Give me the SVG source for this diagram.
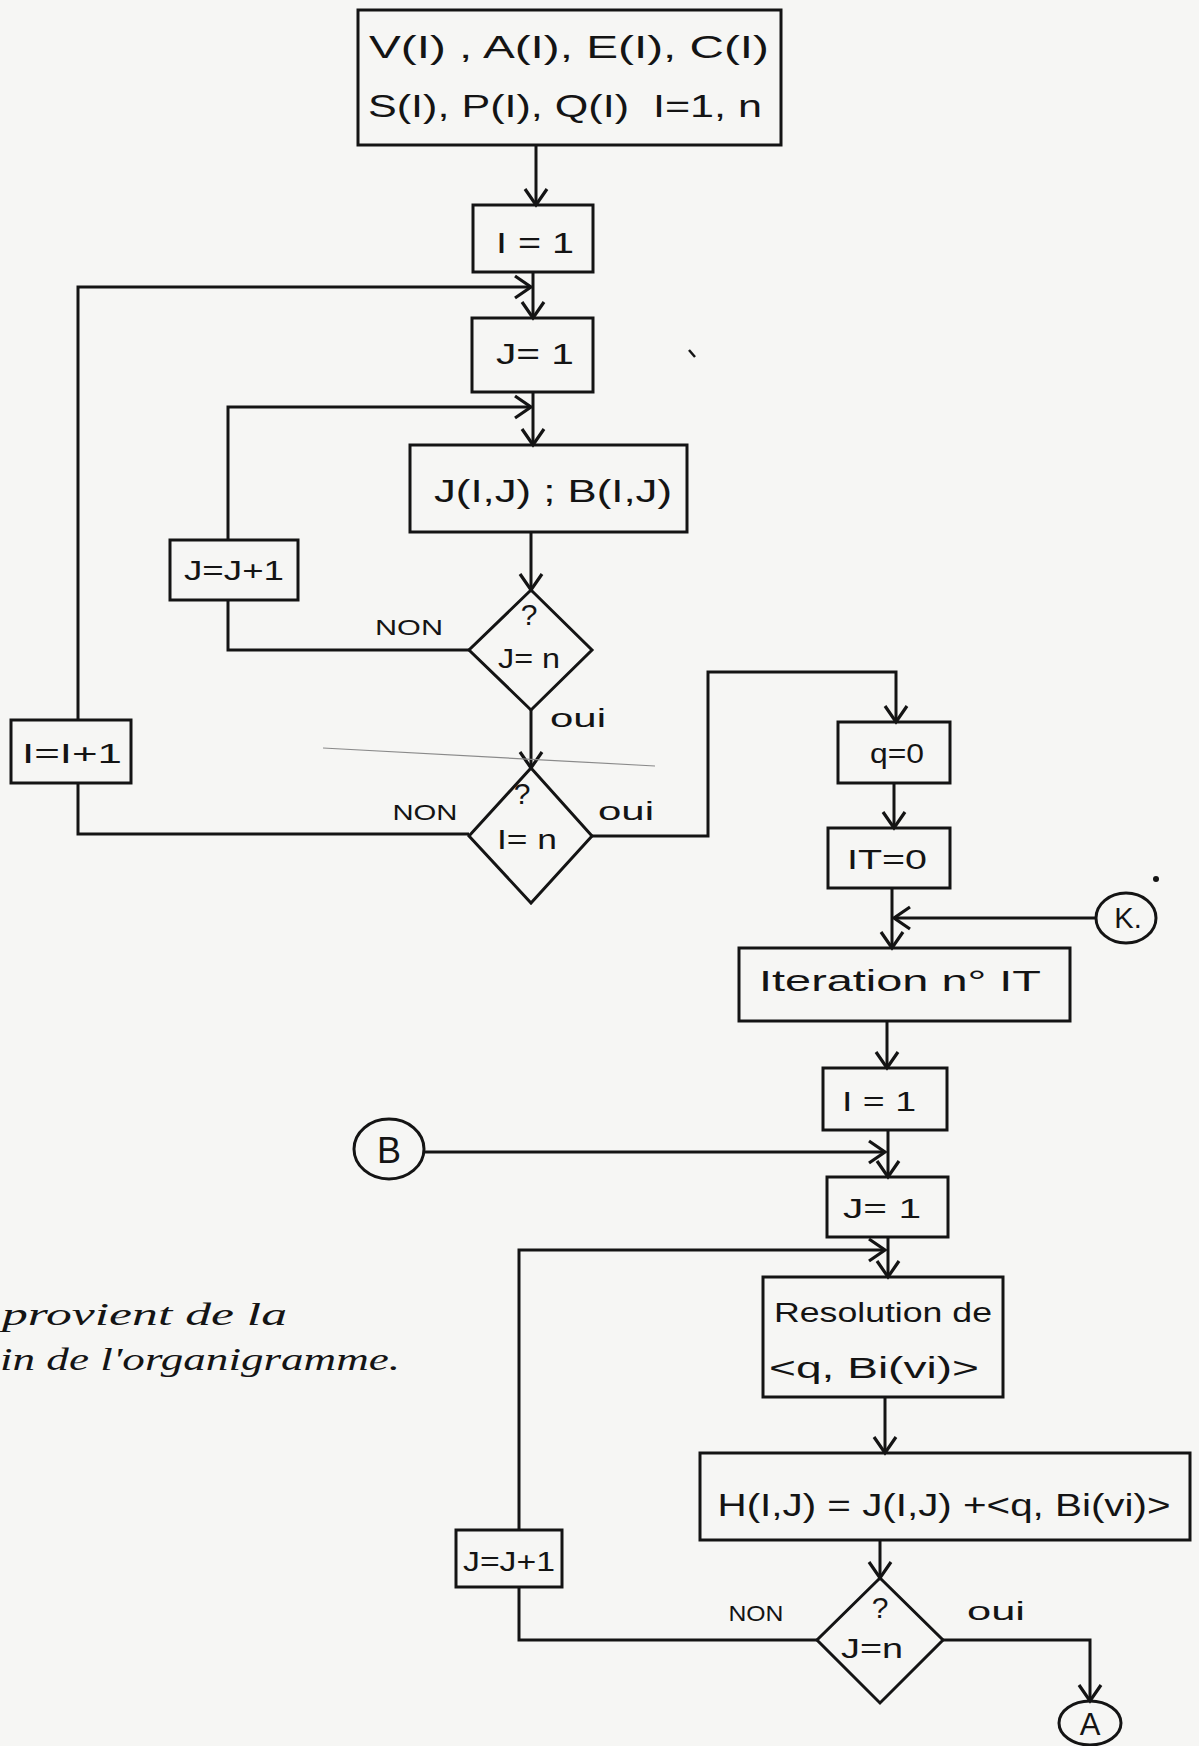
<svg xmlns="http://www.w3.org/2000/svg" width="1199" height="1746" viewBox="0 0 1199 1746">
<defs>
<style>
.bx{fill:none;stroke:#141414;stroke-width:3}
.ln{fill:none;stroke:#141414;stroke-width:3}
.t{font-family:"Liberation Sans","DejaVu Sans",sans-serif;fill:#141414;text-anchor:middle;dominant-baseline:central;white-space:pre}
.lb{font-family:"Liberation Sans","DejaVu Sans",sans-serif;fill:#141414;text-anchor:middle;dominant-baseline:central;font-size:22px}
.nt{font-family:"Liberation Serif","DejaVu Serif",serif;font-style:italic;fill:#141414;font-size:31px}
</style>
<marker id="ah" markerUnits="userSpaceOnUse" markerWidth="28" markerHeight="28" refX="18" refY="13" orient="auto">
<path d="M2,2 L18,13 L2,24" fill="none" stroke="#141414" stroke-width="3.2"/>
</marker>
</defs>
<rect x="0" y="0" width="1199" height="1746" fill="#f6f6f4"/>

<g id="connectors">
<path class="ln" d="M536,145 V205" marker-end="url(#ah)"/>
<path class="ln" d="M533,272 V318" marker-end="url(#ah)"/>
<path class="ln" d="M78,720 V287 H531" marker-end="url(#ah)"/>
<path class="ln" d="M533,392 V445" marker-end="url(#ah)"/>
<path class="ln" d="M228,540 V407 H531" marker-end="url(#ah)"/>
<path class="ln" d="M531,532 V590" marker-end="url(#ah)"/>
<path class="ln" d="M469,650 H228 V600"/>
<path class="ln" d="M531,710 V768" marker-end="url(#ah)"/>
<path class="ln" d="M469,834 H78 V783"/>
<path class="ln" d="M592,836 H708 V672 H896 V722" marker-end="url(#ah)"/>
<path class="ln" d="M894,783 V828" marker-end="url(#ah)"/>
<path class="ln" d="M892,888 V948" marker-end="url(#ah)"/>
<path class="ln" d="M1096,918 H894" marker-end="url(#ah)"/>
<path class="ln" d="M887,1021 V1068" marker-end="url(#ah)"/>
<path class="ln" d="M888,1130 V1177" marker-end="url(#ah)"/>
<path class="ln" d="M424,1152 H885" marker-end="url(#ah)"/>
<path class="ln" d="M888,1237 V1277" marker-end="url(#ah)"/>
<path class="ln" d="M519,1530 V1250 H885" marker-end="url(#ah)"/>
<path class="ln" d="M885,1397 V1453" marker-end="url(#ah)"/>
<path class="ln" d="M880,1540 V1578" marker-end="url(#ah)"/>
<path class="ln" d="M817,1640 H519 V1587"/>
<path class="ln" d="M943,1640 H1090 V1701" marker-end="url(#ah)"/>
</g>

<g id="n-input">
<rect class="bx" x="358" y="10" width="423" height="135"/>
<text class="t" x="569" y="47" font-size="32" textLength="400" lengthAdjust="spacingAndGlyphs">V(I) , A(I), E(I), C(I)</text>
<text class="t" x="565" y="106" font-size="32" textLength="394" lengthAdjust="spacingAndGlyphs">S(I), P(I), Q(I)  I=1, n</text>
</g>
<g id="n-i1">
<rect class="bx" x="473" y="205" width="120" height="67"/>
<text class="t" x="535" y="242" font-size="30" textLength="78" lengthAdjust="spacingAndGlyphs">I = 1</text>
</g>
<g id="n-j1">
<rect class="bx" x="472" y="318" width="121" height="74"/>
<text class="t" x="535" y="353" font-size="30" textLength="78" lengthAdjust="spacingAndGlyphs">J= 1</text>
</g>
<g id="n-jb">
<rect class="bx" x="410" y="445" width="277" height="87"/>
<text class="t" x="553" y="491" font-size="32" textLength="238" lengthAdjust="spacingAndGlyphs">J(I,J) ; B(I,J)</text>
</g>
<g id="n-jinc">
<rect class="bx" x="170" y="540" width="128" height="60"/>
<text class="t" x="234" y="570" font-size="28" textLength="100" lengthAdjust="spacingAndGlyphs">J=J+1</text>
</g>
<g id="n-jn">
<polygon class="bx" points="531,590 592,650 531,710 469,650"/>
<text class="t" x="529" y="614" font-size="30">?</text>
<text class="t" x="529" y="658" font-size="28" textLength="62" lengthAdjust="spacingAndGlyphs">J= n</text>
<text class="lb" x="409" y="627" textLength="68" lengthAdjust="spacingAndGlyphs">NON</text>
<text class="t" x="578" y="718" font-size="25" textLength="56" lengthAdjust="spacingAndGlyphs">oui</text>
</g>
<g id="n-iinc">
<rect class="bx" x="11" y="720" width="120" height="63"/>
<text class="t" x="72" y="753" font-size="28" textLength="100" lengthAdjust="spacingAndGlyphs">I=I+1</text>
</g>
<g id="n-in">
<polygon class="bx" points="531,768 592,836 531,903 469,836"/>
<text class="t" x="522" y="793" font-size="30">?</text>
<text class="t" x="527" y="839" font-size="28" textLength="60" lengthAdjust="spacingAndGlyphs">I= n</text>
<text class="lb" x="425" y="812" textLength="65" lengthAdjust="spacingAndGlyphs">NON</text>
<text class="t" x="626" y="811" font-size="25" textLength="56" lengthAdjust="spacingAndGlyphs">oui</text>
</g>
<g id="n-q0">
<rect class="bx" x="838" y="722" width="112" height="61"/>
<text class="t" x="897" y="753" font-size="28" textLength="54" lengthAdjust="spacingAndGlyphs">q=0</text>
</g>
<g id="n-it0">
<rect class="bx" x="828" y="828" width="122" height="60"/>
<text class="t" x="887" y="859" font-size="28" textLength="80" lengthAdjust="spacingAndGlyphs">IT=0</text>
</g>
<g id="n-k">
<ellipse class="bx" cx="1126" cy="918" rx="30" ry="25"/>
<text class="t" x="1128" y="918" font-size="29">K.</text>
</g>
<g id="n-iter">
<rect class="bx" x="739" y="948" width="331" height="73"/>
<text class="t" x="900" y="981" font-size="29" textLength="282" lengthAdjust="spacingAndGlyphs">Iteration n° IT</text>
</g>
<g id="n-i1b">
<rect class="bx" x="823" y="1068" width="124" height="62"/>
<text class="t" x="879" y="1101" font-size="28" textLength="74" lengthAdjust="spacingAndGlyphs">I = 1</text>
</g>
<g id="n-b">
<ellipse class="bx" cx="389" cy="1149" rx="35" ry="30"/>
<text class="t" x="389" y="1150" font-size="36">B</text>
</g>
<g id="n-j1b">
<rect class="bx" x="827" y="1177" width="121" height="60"/>
<text class="t" x="882" y="1208" font-size="28" textLength="78" lengthAdjust="spacingAndGlyphs">J= 1</text>
</g>
<g id="n-resol">
<rect class="bx" x="763" y="1277" width="240" height="120"/>
<text class="t" x="883" y="1313" font-size="27" textLength="218" lengthAdjust="spacingAndGlyphs">Resolution de</text>
<text class="t" x="874" y="1367" font-size="30" textLength="210" lengthAdjust="spacingAndGlyphs">&lt;q, Bi(vi)&gt;</text>
</g>
<g id="n-h">
<rect class="bx" x="700" y="1453" width="490" height="87"/>
<text class="t" x="944" y="1505" font-size="32" textLength="453" lengthAdjust="spacingAndGlyphs">H(I,J) = J(I,J) +&lt;q, Bi(vi)&gt;</text>
</g>
<g id="n-jincb">
<rect class="bx" x="456" y="1530" width="106" height="57"/>
<text class="t" x="509" y="1561" font-size="28" textLength="92" lengthAdjust="spacingAndGlyphs">J=J+1</text>
</g>
<g id="n-jnb">
<polygon class="bx" points="880,1578 943,1640 880,1703 817,1640"/>
<text class="t" x="880" y="1607" font-size="30">?</text>
<text class="t" x="872" y="1648" font-size="28" textLength="62" lengthAdjust="spacingAndGlyphs">J=n</text>
<text class="lb" x="756" y="1613" textLength="55" lengthAdjust="spacingAndGlyphs">NON</text>
<text class="t" x="996" y="1611" font-size="25" textLength="58" lengthAdjust="spacingAndGlyphs">oui</text>
</g>
<g id="n-a">
<ellipse class="bx" cx="1090" cy="1723" rx="31" ry="22"/>
<text class="t" x="1090" y="1724" font-size="31">A</text>
</g>

<g id="note">
<text class="nt" x="2" y="1325" textLength="285" lengthAdjust="spacingAndGlyphs">provient de la</text>
<text class="nt" x="0" y="1370" textLength="400" lengthAdjust="spacingAndGlyphs">in de l'organigramme.</text>
</g>

<g id="marks">
<path d="M323,748 L655,766" stroke="#8a8a8a" stroke-width="1.2" fill="none"/>
<circle cx="1156" cy="879" r="3" fill="#141414"/>
<path d="M689,350 L695,357" stroke="#141414" stroke-width="2.5"/>
</g>
</svg>
